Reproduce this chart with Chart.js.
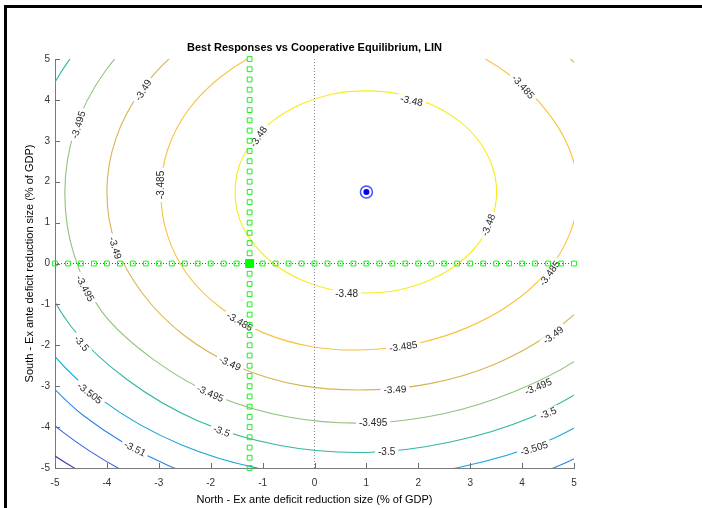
<!DOCTYPE html>
<html><head><meta charset="utf-8">
<script src="https://cdn.jsdelivr.net/npm/chart.js@4.4.0/dist/chart.umd.min.js"></script>
<style>html,body{margin:0;padding:0;background:#fff;overflow:hidden;}canvas{display:block;}</style>
</head><body>
<canvas id="c" width="702" height="508"></canvas>
<script>
// ---------- data ----------
const chartTitle = 'Best Responses vs Cooperative Equilibrium, LIN';
const xAxisTitle = 'North - Ex ante deficit reduction size (% of GDP)';
const yAxisTitle = 'South - Ex ante deficit reduction size (% of GDP)';
const xTickValues = [-5, -4, -3, -2, -1, 0, 1, 2, 3, 4, 5];
const yTickValues = [-5, -4, -3, -2, -1, 0, 1, 2, 3, 4, 5];

const contourLevels = [-3.48, -3.485, -3.49, -3.495, -3.5, -3.505, -3.51, -3.515, -3.52];

const contour_3480 = [[1.64,4.14],[2.25,3.89],[2.77,3.50],[3.17,2.99],[3.42,2.39],[3.51,1.75],[3.42,1.11],[3.17,0.51],[2.77,0.00],[2.25,-0.39],[1.64,-0.64],[0.99,-0.72],[0.34,-0.64],[-0.27,-0.39],[-0.79,0.00],[-1.19,0.51],[-1.45,1.11],[-1.53,1.75],[-1.45,2.39],[-1.19,2.99],[-0.79,3.50],[-0.27,3.89],[0.34,4.14],[0.99,4.22],[1.64,4.14],[2.25,3.89]];
const contour_3485 = [[1.0,5.75],[-0.04,5.61],[-0.99,5.2],[-1.81,4.56],[-2.44,3.74],[-2.83,2.78],[-2.96,1.75],[-2.84,0.72],[-2.46,-0.25],[-1.82,-1.07],[-0.99,-1.69],[-0.02,-2.04],[1.0,-2.11],[1.99,-1.95],[2.92,-1.58],[3.76,-1.01],[4.45,-0.24],[4.91,0.7],[5.08,1.75],[4.91,2.8],[4.46,3.75],[3.81,4.56],[2.99,5.2],[2.04,5.61],[1.0,5.75]];
const contour_3490 = [[-1.5,6.08],[-2.54,5.29],[-3.33,4.25],[-3.83,3.04],[-4.0,1.75],[-3.83,0.46],[-3.31,-0.74],[-2.51,-1.76],[-1.47,-2.53],[-0.27,-2.98],[1.0,-3.09],[2.25,-2.93],[3.44,-2.48],[4.5,-1.75],[5.37,-0.78],[5.97,0.42],[6.2,1.75],[5.97,3.08],[5.42,4.3],[4.61,5.36],[3.55,6.17]];
const contour_3495 = [[-1.92,6.8],[-3.14,5.89],[-4.05,4.67],[-4.62,3.26],[-4.81,1.75],[-4.64,0.24],[-4.09,-1.19],[-3.1,-2.35],[-1.88,-3.24],[-0.48,-3.76],[1.0,-3.9],[2.46,-3.68],[3.83,-3.14],[5.08,-2.33],[6.07,-1.18]];
const contour_3500 = [[-2.29,7.44],[-3.65,6.4],[-4.69,5.04],[-5.35,3.45],[-5.57,1.75],[-5.35,0.05],[-4.69,-1.54],[-3.6,-2.85],[-2.24,-3.85],[-0.66,-4.45],[1.0,-4.62],[2.64,-4.36],[4.18,-3.76],[5.56,-2.81]];
const contour_3505 = [[-5.99,-0.13],[-5.26,-1.87],[-4.09,-3.34],[-2.57,-4.43],[-0.83,-5.07],[1.0,-5.25],[2.8,-4.98],[4.51,-4.33],[6.03,-3.28]];
const contour_3510 = [[-5.71,-2.13],[-4.46,-3.71],[-2.85,-4.92],[-0.98,-5.65],[1.0,-5.89],[2.98,-5.62],[4.83,-4.88],[6.45,-3.7]];
const contour_3515 = [[-6.21,-2.41],[-4.86,-4.11],[-3.14,-5.41],[-1.14,-6.24]];
const contour_3520 = [[-6.66,-2.68],[-5.24,-4.49],[-3.4,-5.87]];

// best-response grids (sampled every 0.25)
const responseGrid = [-5,-4.75,-4.5,-4.25,-4,-3.75,-3.5,-3.25,-3,-2.75,-2.5,-2.25,-2,-1.75,-1.5,-1.25,-1,-0.75,-0.5,-0.25,0,0.25,0.5,0.75,1,1.25,1.5,1.75,2,2.25,2.5,2.75,3,3.25,3.5,3.75,4,4.25,4.5,4.75,5];
const northBestResponse = -1.25;   // vertical green line
const southBestResponse = 0;       // horizontal green line
const nashEquilibrium = [-1.25, 0];
const cooperativeEquilibrium = [1.0, 1.75];
const axisRange = [-5, 5];

// contour labels: [level, x, y, angle in degrees]
const contourLabels = [
  [-3.48, -1.08, 3.1, -56], [-3.48, 1.87, 3.98, 12], [-3.48, 3.35, 0.94, -69], [-3.48, 0.62, -0.73, 0],
  [-3.485, -2.96, 1.92, -90], [-3.485, -1.44, -1.42, 30], [-3.485, 1.71, -2.03, -8], [-3.485, 4.53, -0.24, -54], [-3.485, 4.02, 4.32, 48],
  [-3.49, -3.3, 4.24, -58], [-3.49, -3.84, 0.38, 73], [-3.49, -1.63, -2.44, 24], [-3.49, 1.55, -3.08, -3], [-3.49, 4.6, -1.75, -37],
  [-3.495, -4.55, 3.39, -73], [-3.495, -4.42, -0.61, 62], [-3.495, -2.01, -3.18, 24], [-3.495, 1.13, -3.9, 0], [-3.495, 4.31, -3.01, -23],
  [-3.5, -4.49, -1.95, 50], [-3.5, -1.79, -4.1, 21], [-3.5, 1.39, -4.6, 0], [-3.5, 4.5, -3.66, -24],
  [-3.505, -4.33, -3.17, 38], [-3.505, 4.23, -4.52, -17],
  [-3.51, -3.46, -4.53, 27]
];

// ---------- styles ----------
const FONT = '"Liberation Sans", Arial, Helvetica, sans-serif';
const levelColors = {'-3.48':'#f7ec1e','-3.485':'#f8c23c','-3.49':'#d6b552','-3.495':'#8ec47c','-3.5':'#2fb6a4','-3.505':'#17a6dc','-3.51':'#2c86e6','-3.515':'#3e64e6','-3.52':'#4a3cae'};
const contourData = {'-3.48':contour_3480,'-3.485':contour_3485,'-3.49':contour_3490,'-3.495':contour_3495,'-3.5':contour_3500,'-3.505':contour_3505,'-3.51':contour_3510,'-3.515':contour_3515,'-3.52':contour_3520};

const toXY = arr => arr.map(p => ({x: p[0], y: p[1]}));

const datasets = [];
datasets.push({label:'coop-dot', data:[{x:cooperativeEquilibrium[0], y:cooperativeEquilibrium[1]}], order:1, pointRadius:3, pointBackgroundColor:'#0000ff', pointBorderWidth:0, clip:false});
datasets.push({label:'coop-ring', data:[{x:cooperativeEquilibrium[0], y:cooperativeEquilibrium[1]}], order:2, pointRadius:6, pointBackgroundColor:'#ffffff', pointBorderColor:'rgba(30,50,255,0.85)', pointBorderWidth:1.5, clip:false});
datasets.push({label:'nash', data:[{x:nashEquilibrium[0], y:nashEquilibrium[1]}], order:3, pointStyle:'rect', pointRadius:5.6, pointBackgroundColor:'#00ff00', pointBorderColor:'#00ff00', pointBorderWidth:1, clip:false});
datasets.push({label:'north-br', data:responseGrid.map(v => ({x:northBestResponse, y:v})), order:4, pointStyle:'rect', pointRadius:3.4, pointBackgroundColor:'rgba(0,0,0,0)', pointBorderColor:'#1cf01c', pointBorderWidth:1, clip:false});
datasets.push({label:'south-br', data:responseGrid.map(v => ({x:v, y:southBestResponse})), order:5, pointStyle:'rect', pointRadius:3.4, pointBackgroundColor:'rgba(0,0,0,0)', pointBorderColor:'#1cf01c', pointBorderWidth:1, clip:false});
datasets.push({label:'zero-x', data:[{x:0, y:axisRange[0]}, {x:0, y:axisRange[1]}], order:6, showLine:true, pointRadius:0, borderColor:'#8a8a8a', borderWidth:1, borderDash:[1,2]});
datasets.push({label:'zero-y', data:[{x:axisRange[0], y:0}, {x:axisRange[1], y:0}], order:7, showLine:true, pointRadius:0, borderColor:'#5a5a5a', borderWidth:1, borderDash:[1,2]});
datasets.push({label:'labels-layer', isLabelLayer:true, data:[], order:8, pointRadius:0});
contourLevels.forEach((lv, i) => {
  const key = String(lv);
  datasets.push({label:'contour ' + key, data:toXY(contourData[key]), order:20 + i, showLine:true, pointRadius:0, borderColor:levelColors[key], borderWidth:1.1, tension:0.34});
});

const labelPlugin = {
  id: 'contourLabels',
  afterDatasetDraw(chart, args) {
    const ds = chart.data.datasets[args.index];
    if (!ds.isLabelLayer) return;
    const ctx = chart.ctx, xs = chart.scales.x, ys = chart.scales.y, a = chart.chartArea;
    ctx.save();
    ctx.beginPath(); ctx.rect(a.left, a.top, a.right - a.left, a.bottom - a.top); ctx.clip();
    ctx.font = '10px ' + FONT;
    ctx.textAlign = 'center'; ctx.textBaseline = 'middle';
    contourLabels.forEach(([lv, x, y, ang]) => {
      const px = xs.getPixelForValue(x), py = ys.getPixelForValue(y);
      const txt = String(lv);
      const w = ctx.measureText(txt).width;
      ctx.save();
      ctx.translate(px, py); ctx.rotate(ang * Math.PI / 180);
      ctx.fillStyle = '#ffffff';
      ctx.fillRect(-w / 2 - 3, -4, w + 6, 8);
      ctx.fillStyle = '#262626';
      ctx.fillText(txt, 0, 0.5);
      ctx.restore();
    });
    ctx.restore();
  }
};

const framePlugin = {
  id: 'frameAndTicks',
  beforeDraw(chart) {
    const ctx = chart.ctx;
    ctx.save();
    ctx.fillStyle = '#ffffff'; ctx.fillRect(0, 0, chart.width, chart.height);
    ctx.fillStyle = '#000000';
    ctx.fillRect(4, 5, chart.width - 4, 3);
    ctx.fillRect(4, 5, 3, chart.height - 5);
    ctx.restore();
  },
  afterDraw(chart) {
    const ctx = chart.ctx, xs = chart.scales.x, ys = chart.scales.y, a = chart.chartArea;
    ctx.save();
    ctx.strokeStyle = '#6e6e6e'; ctx.lineWidth = 1;
    ctx.beginPath();
    xTickValues.forEach(v => { const p = Math.round(xs.getPixelForValue(v)) + 0.5; ctx.moveTo(p, a.bottom); ctx.lineTo(p, a.bottom - 5); });
    yTickValues.forEach(v => { const p = Math.round(ys.getPixelForValue(v)) + 0.5; ctx.moveTo(a.left, p); ctx.lineTo(a.left + 5, p); });
    ctx.stroke();
    ctx.restore();
  }
};

new Chart(document.getElementById('c'), {
  type: 'scatter',
  data: { datasets },
  options: {
    responsive: false, animation: false, devicePixelRatio: 1,
    layout: { padding: { left: 0, right: 128, top: 0, bottom: 0 } },
    plugins: {
      legend: { display: false }, tooltip: { enabled: false },
      title: { display: true, text: chartTitle, fullSize: false, color: '#000', font: { family: FONT, size: 11, weight: 'bold' }, padding: { top: 41.4, bottom: 4.4 } }
    },
    scales: {
      x: {
        type: 'linear', position: 'bottom', min: axisRange[0], max: axisRange[1],
        afterBuildTicks: s => { s.ticks = xTickValues.map(v => ({ value: v })); },
        afterFit: s => { s.height = 40; },
        grid: { display: false, drawTicks: false },
        border: { display: true, color: '#7a7a7a', width: 1 },
        ticks: { autoSkip: false, maxRotation: 0, padding: 9, color: '#333333', font: { family: FONT, size: 10 } },
        title: { display: true, text: xAxisTitle, color: '#000', font: { family: FONT, size: 11 }, padding: { top: 0, bottom: 1.5 } }
      },
      y: {
        type: 'linear', position: 'left', min: axisRange[0], max: axisRange[1],
        afterBuildTicks: s => { s.ticks = yTickValues.map(v => ({ value: v })); },
        afterFit: s => { s.width = 55; },
        grid: { display: false, drawTicks: false },
        border: { display: true, color: '#7a7a7a', width: 1 },
        ticks: { autoSkip: false, padding: 5, color: '#333333', font: { family: FONT, size: 10 } },
        title: { display: true, text: yAxisTitle, color: '#000', font: { family: FONT, size: 11 }, padding: { top: 23, bottom: 0 } }
      }
    }
  },
  plugins: [framePlugin, labelPlugin]
});
</script>
</body></html>
